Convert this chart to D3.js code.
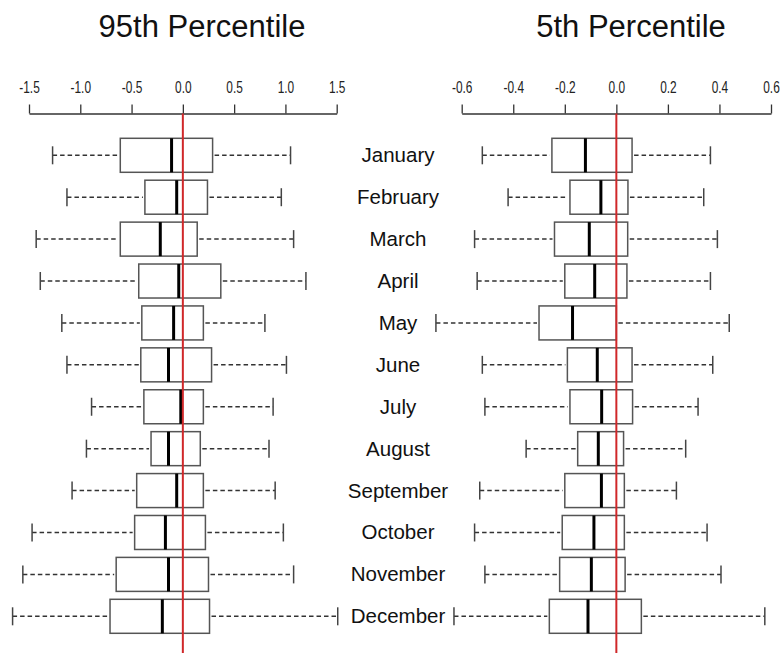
<!DOCTYPE html>
<html>
<head>
<meta charset="utf-8">
<title>Percentile boxplots</title>
<script src="https://cdn.jsdelivr.net/npm/d3@7"></script>
<style>
  body { margin: 0; background: #fff; }
  svg text { font-family: "Liberation Sans", Arial, sans-serif; }
</style>
</head>
<body>
<svg id="chart" width="780" height="653"></svg>
<script>
// months, top to bottom
var months = ["January","February","March","April","May","June",
              "July","August","September","October","November","December"];

// 95th percentile panel (whisker low, q1, median, q3, whisker high)
var p95Low  = [-1.27,-1.13,-1.43,-1.39,-1.18,-1.13,-0.89,-0.94,-1.08,-1.47,-1.56,-1.66];
var p95Q1   = [-0.61,-0.37,-0.61,-0.43,-0.40,-0.41,-0.38,-0.31,-0.45,-0.47,-0.65,-0.71];
var p95Med  = [-0.11,-0.06,-0.22,-0.04,-0.09,-0.14,-0.02,-0.14,-0.06,-0.17,-0.14,-0.20];
var p95Q3   = [0.29,0.24,0.14,0.37,0.20,0.28,0.20,0.17,0.20,0.22,0.25,0.26];
var p95High = [1.05,0.96,1.08,1.20,0.80,1.01,0.88,0.84,0.90,0.98,1.08,1.51];

// 5th percentile panel
var p5Low  = [-0.52,-0.42,-0.55,-0.54,-0.70,-0.52,-0.51,-0.35,-0.53,-0.55,-0.51,-0.63];
var p5Q1   = [-0.25,-0.18,-0.24,-0.20,-0.30,-0.19,-0.18,-0.15,-0.20,-0.21,-0.22,-0.26];
var p5Med  = [-0.12,-0.06,-0.105,-0.084,-0.17,-0.074,-0.057,-0.07,-0.058,-0.087,-0.097,-0.11];
var p5Q3   = [0.061,0.045,0.044,0.041,0.0,0.061,0.063,0.028,0.031,0.031,0.034,0.097];
var p5High = [0.365,0.339,0.392,0.365,0.438,0.374,0.317,0.269,0.233,0.352,0.406,0.576];

var p95Ticks = [-1.5,-1.0,-0.5,0.0,0.5,1.0,1.5];
var p5Ticks  = [-0.6,-0.4,-0.2,0.0,0.2,0.4,0.6];

var svg = d3.select("#chart");

var axisY = 113.5;
var boxH = 34;
var y = d3.scalePoint().domain(months).range([155.3, 616.3]);

function rows(lo, q1, med, q3, hi) {
  return months.map(function (m, i) {
    return {month: m, lo: lo[i], q1: q1[i], med: med[i], q3: q3[i], hi: hi[i]};
  });
}

function panel(title, titleX, domain, range, ticks, data) {
  var x = d3.scaleLinear().domain(domain).range(range);
  var g = svg.append("g");

  g.append("text")
    .attr("x", titleX).attr("y", 37)
    .attr("text-anchor", "middle")
    .style("font-size", "31px")
    .attr("fill", "#111")
    .text(title);

  var ax = g.append("g")
    .attr("transform", "translate(0," + axisY + ")")
    .call(d3.axisTop(x).tickValues(ticks).tickSize(9).tickSizeOuter(0)
      .tickPadding(12).tickFormat(d3.format(".1f")));
  ax.select(".domain").attr("stroke", "#333").attr("stroke-width", 1.3);
  ax.selectAll(".tick line").attr("stroke", "#333").attr("stroke-width", 1.3);
  ax.selectAll(".tick text")
    .attr("fill", "#222")
    .style("font-size", "17px")
    .attr("transform", "scale(0.7,1)")
    .text(function (d) { return d3.format(".1f")(d).replace("\u2212", "-"); });

  var b = g.selectAll(".bx").data(data).enter().append("g").attr("class", "bx");

  // dashed whiskers
  b.append("line")
    .attr("x1", function (d) { return x(d.lo); })
    .attr("x2", function (d) { return x(d.q1) - 2; })
    .attr("y1", function (d) { return y(d.month); })
    .attr("y2", function (d) { return y(d.month); })
    .attr("stroke", "#333").attr("stroke-width", 1.5)
    .attr("stroke-dasharray", "4.5,3");
  b.append("line")
    .attr("x1", function (d) { return x(d.q3) + 2; })
    .attr("x2", function (d) { return x(d.hi); })
    .attr("y1", function (d) { return y(d.month); })
    .attr("y2", function (d) { return y(d.month); })
    .attr("stroke", "#333").attr("stroke-width", 1.5)
    .attr("stroke-dasharray", "4.5,3");

  // whisker caps
  ["lo", "hi"].forEach(function (k) {
    b.append("line")
      .attr("x1", function (d) { return x(d[k]); })
      .attr("x2", function (d) { return x(d[k]); })
      .attr("y1", function (d) { return y(d.month) - 9; })
      .attr("y2", function (d) { return y(d.month) + 9; })
      .attr("stroke", "#444").attr("stroke-width", 1.5);
  });

  b.append("rect")
    .attr("x", function (d) { return x(d.q1); })
    .attr("width", function (d) { return x(d.q3) - x(d.q1); })
    .attr("y", function (d) { return y(d.month) - boxH / 2; })
    .attr("height", boxH)
    .attr("fill", "#fff").attr("stroke", "#555").attr("stroke-width", 1.5);

  b.append("line")
    .attr("x1", function (d) { return x(d.med); })
    .attr("x2", function (d) { return x(d.med); })
    .attr("y1", function (d) { return y(d.month) - boxH / 2; })
    .attr("y2", function (d) { return y(d.month) + boxH / 2; })
    .attr("stroke", "#000").attr("stroke-width", 3);

  // zero reference line
  g.append("line")
    .attr("x1", x(0)).attr("x2", x(0))
    .attr("y1", axisY).attr("y2", 653)
    .attr("stroke", "#d0282a").attr("stroke-width", 2);
}

panel("95th Percentile", 202, [-1.5, 1.5], [29, 336.7], p95Ticks,
      rows(p95Low, p95Q1, p95Med, p95Q3, p95High));
panel("5th Percentile", 631, [-0.6, 0.6], [461.7, 771], p5Ticks,
      rows(p5Low, p5Q1, p5Med, p5Q3, p5High));

// month labels in the middle
svg.append("g").selectAll("text").data(months).enter().append("text")
  .attr("x", 398)
  .attr("y", function (d) { return y(d) + 7; })
  .attr("text-anchor", "middle")
  .style("font-size", "20.5px")
  .attr("fill", "#111")
  .text(function (d) { return d; });
</script>
</body>
</html>
